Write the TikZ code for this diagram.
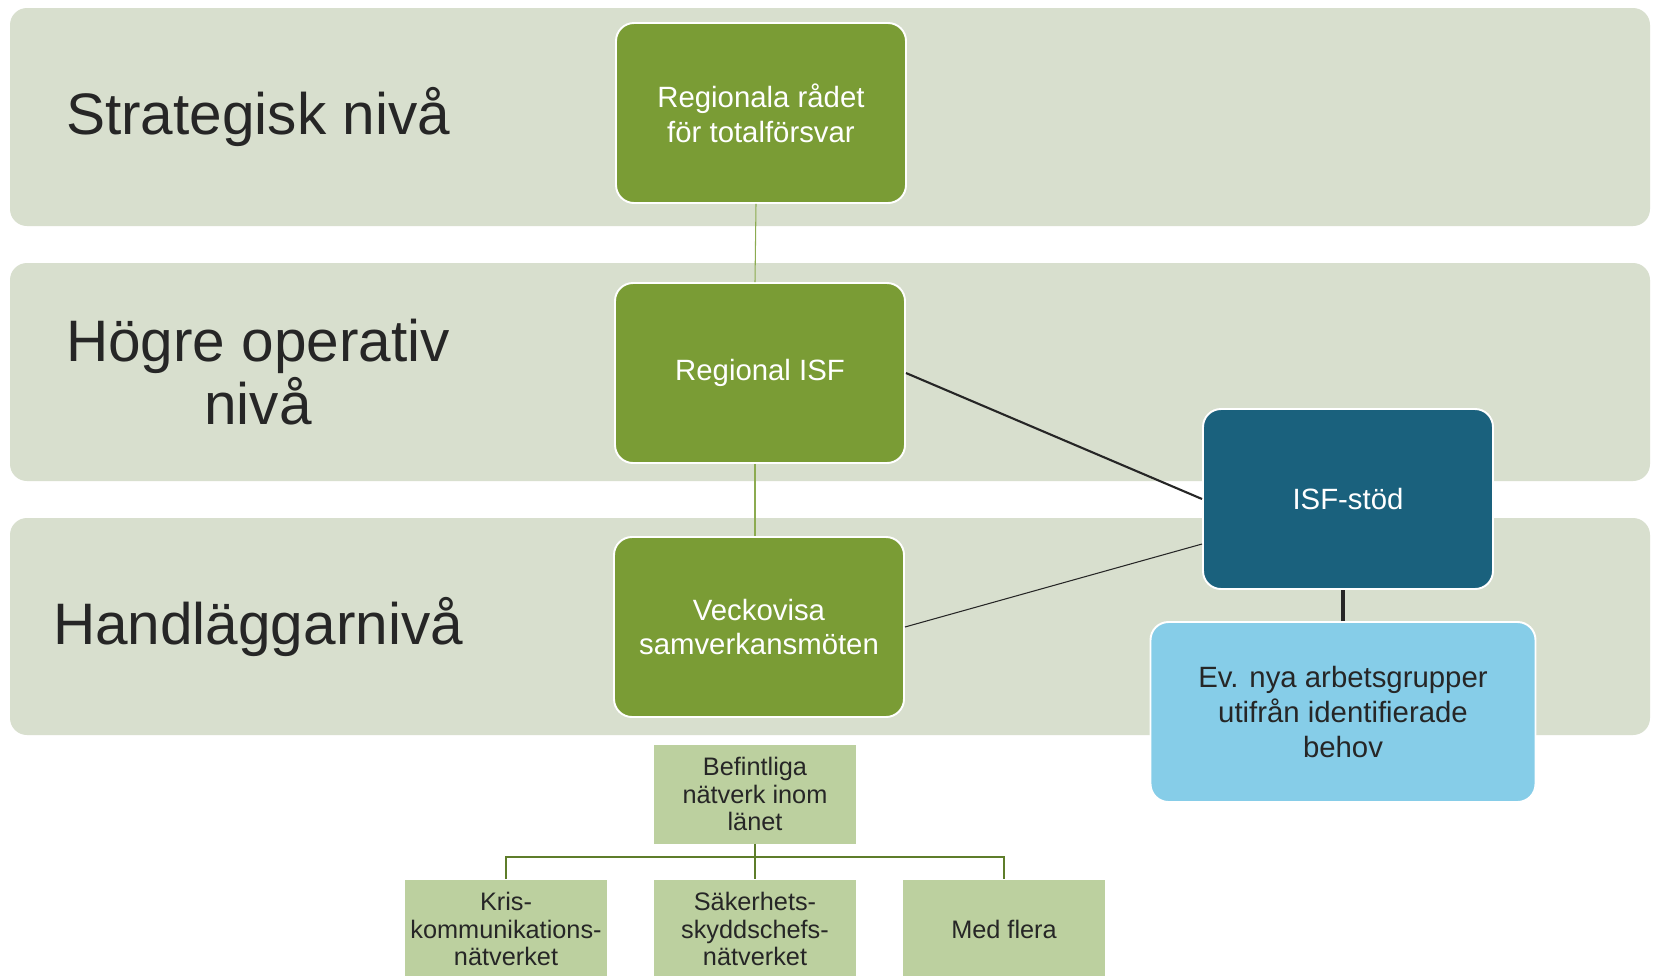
\documentclass[tikz,border=0pt]{standalone}
\usepackage{fontspec}
\setmainfont{Liberation Sans}
\definecolor{bandgray}{HTML}{D8DFCE}
\definecolor{leafgreen}{HTML}{7A9C35}
\definecolor{palegreen}{HTML}{BCD09F}
\definecolor{deepteal}{HTML}{1A617D}
\definecolor{skyblue}{HTML}{86CDE8}
\definecolor{inkdark}{HTML}{262626}
\definecolor{treegreen}{HTML}{5E7D2A}
\definecolor{linkgreen}{HTML}{8CAB50}
\begin{document}
\begin{tikzpicture}[x=0.2mm, y=-0.2mm,
		levelband/.style={fill=bandgray, rounded corners=3.4mm},
		levelname/.style={text=inkdark, align=center, font=\fontsize{33.3}{35.8}\selectfont},
		mainbox/.style={draw=white, line width=1.1pt, rounded corners=3.6mm, align=center,
			minimum width=58mm, minimum height=36mm, font=\fontsize{16.7}{19.8}\selectfont},
		netbox/.style={fill=palegreen, text=inkdark, align=center, inner sep=0pt,
			minimum width=40.4mm, minimum height=19.8mm, font=\fontsize{14.4}{15.6}\selectfont},
		tree/.style={draw=treegreen, line width=1.4pt}]
	
	% canvas
	\clip (0, 0) rectangle (1654, 975);
	\fill[white] (0, 0) rectangle (1654, 975);
	
	% bands
	\fill[levelband] (10, 8) rectangle (1650, 226);
	\fill[levelband] (10, 263) rectangle (1650, 481);
	\fill[levelband] (10, 518) rectangle (1650, 735);
	
	% levels
	\node[levelname] (strat) at (258, 117) {Strategisk nivå};
	\node[levelname] (oper) at (258, 372) {Högre operativ\\nivå};
	\node[levelname] (handl) at (258, 627) {Handläggarnivå};
	
	% boxes
	\node[mainbox, fill=leafgreen, text=white] (radet) at (761, 113) {Regionala rådet\\för totalförsvar};
	\node[mainbox, fill=leafgreen, text=white] (isf) at (760, 373) {Regional ISF};
	\node[mainbox, fill=leafgreen, text=white] (veckovisa) at (759, 627) {Veckovisa\\samverkansmöten};
	\node[mainbox, fill=deepteal, text=white] (stod) at (1348, 499) {ISF-stöd};
	\node[mainbox, fill=skyblue, text=inkdark, minimum width=77mm] (nya) at (1343, 712) {Ev. nya arbetsgrupper\\utifrån identifierade\\behov};
	
	% links
	\draw[linkgreen, line width=0.6pt] ([xshift=-1mm]radet.south) -- ([xshift=-1mm]isf.north);
	\draw[linkgreen, line width=0.6pt] ([xshift=-1mm]isf.south) -- ([xshift=-0.8mm]veckovisa.north);
	\draw[inkdark, line width=1.2pt] (isf.east) -- (stod.west);
	\draw[inkdark, line width=0.6pt] (veckovisa.east) -- ([yshift=-9mm]stod.west);
	\draw[inkdark, line width=2pt] (nya.north) -- (nya.north |- stod.south);
	
	% networks
	\node[netbox] (befintliga) at (755, 794) {Befintliga\\nätverk inom\\länet};
	\node[netbox] (kris) at (506, 929) {Kris-\\kommunikations-\\nätverket};
	\node[netbox] (sakerhet) at (755, 929) {Säkerhets-\\skyddschefs-\\nätverket};
	\node[netbox] (flera) at (1004, 929) {Med flera};
	\coordinate (fork) at (755, 857);
	
	\draw[tree] (befintliga.south) -- (fork);
	\draw[tree] (kris.north) |- (fork) -| (flera.north);
	\draw[tree] (fork) -- (sakerhet.north);
	
\end{tikzpicture}
\end{document}
